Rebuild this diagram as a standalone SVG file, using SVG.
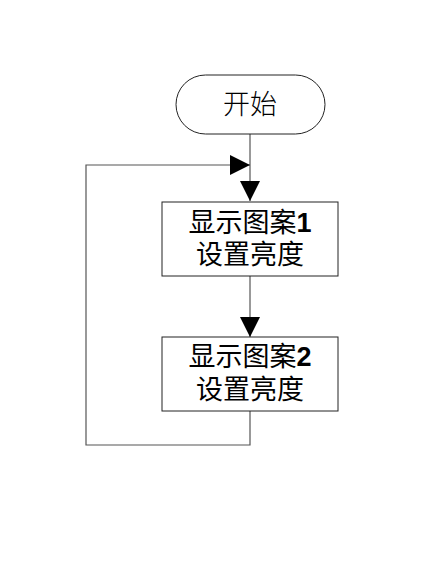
<svg xmlns="http://www.w3.org/2000/svg" width="430" height="576" viewBox="0 0 430 576">
<style>
.node{fill:#fff;stroke:#222;stroke-width:1}
.t{font-family:"Noto Sans CJK SC","Liberation Sans",sans-serif;font-size:27px;fill:#000;text-anchor:middle;font-weight:400}
.s{font-weight:300}
.d{font-family:"Liberation Sans",sans-serif;font-weight:bold}
.c{fill:none;stroke:#555;stroke-width:1.2}
</style>
<defs>
<marker id="ah" markerUnits="userSpaceOnUse" markerWidth="20" markerHeight="20" refX="19" refY="9.5" orient="auto" viewBox="0 0 19 19">
<path d="M0,0 L19,9.5 L0,19 Z" fill="#000"/>
</marker>
</defs>
<rect width="430" height="576" fill="#fff"/>
<g id="connectors">
<path class="c" d="M250,134 V201" marker-end="url(#ah)"/>
<path class="c" d="M250,276 V337" marker-end="url(#ah)"/>
<path class="c" d="M250,411 V445 H86 V165 H250" marker-end="url(#ah)"/>
</g>
<g id="start">
<rect class="node" x="176" y="75" width="149" height="59" rx="29.5" ry="29.5"/>
<text class="t s" x="250" y="114">开始</text>
</g>
<g id="step1">
<rect class="node" x="162" y="202" width="176" height="74"/>
<text class="t" x="250" y="232">显示图案<tspan class="d">1</tspan></text>
<text class="t" x="250" y="264">设置亮度</text>
</g>
<g id="step2">
<rect class="node" x="162" y="337" width="176" height="74"/>
<text class="t" x="250" y="366">显示图案<tspan class="d">2</tspan></text>
<text class="t" x="250" y="399">设置亮度</text>
</g>
</svg>
